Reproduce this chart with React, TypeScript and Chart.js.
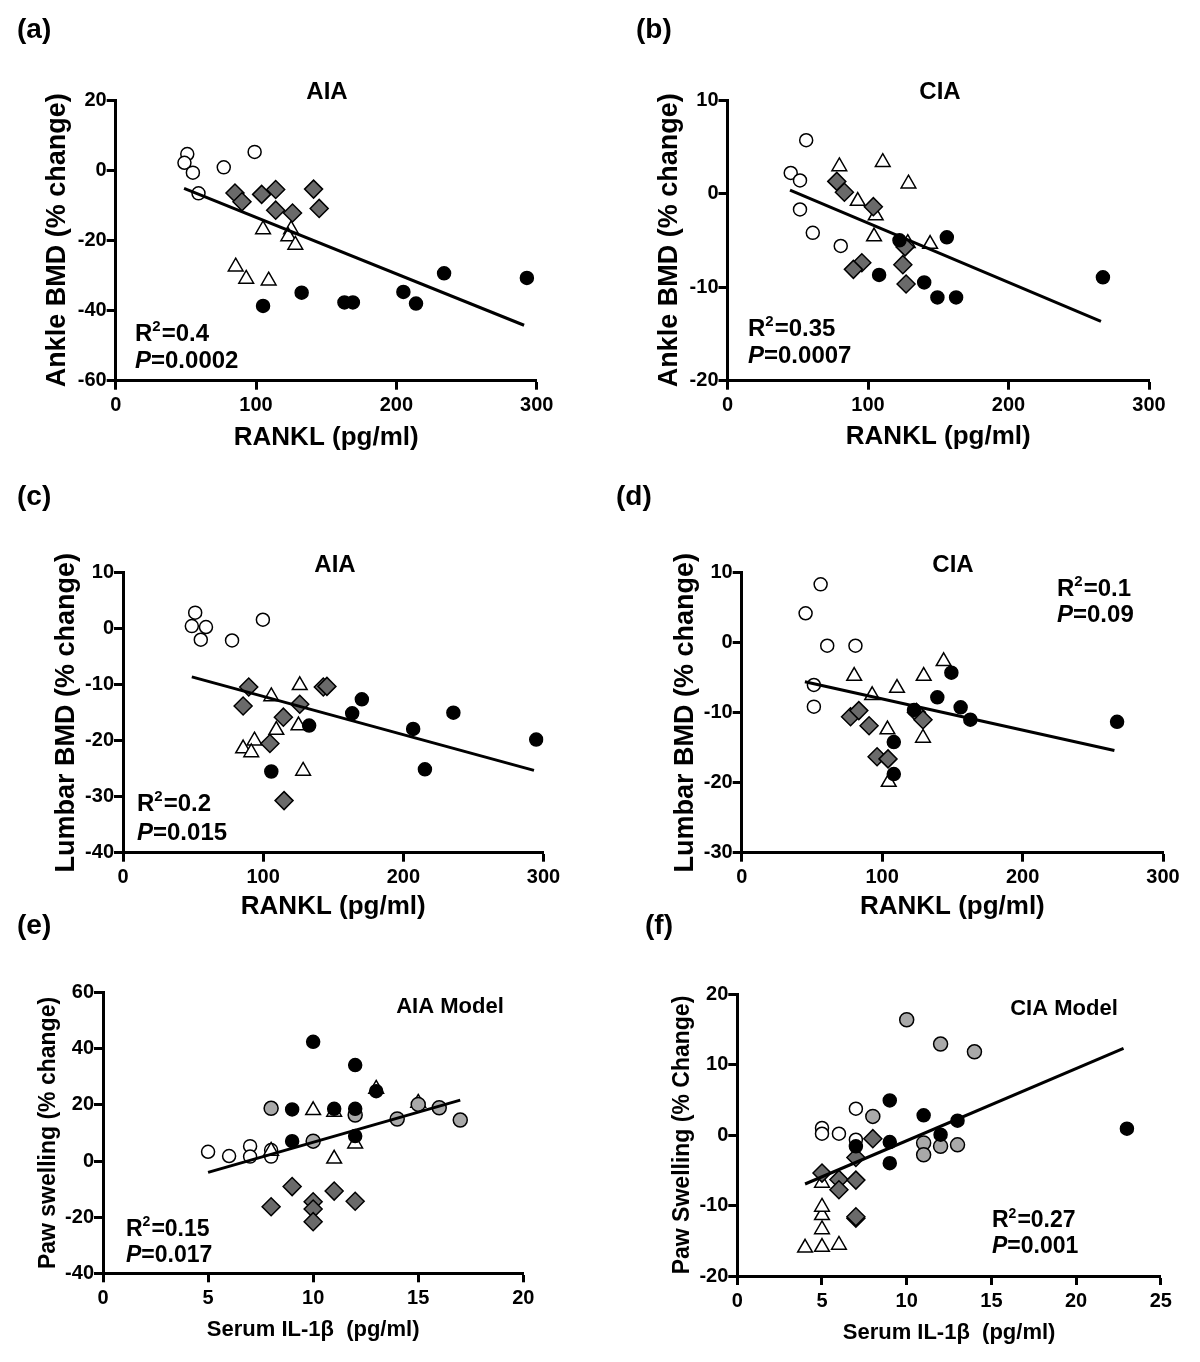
import React, { useEffect, useRef } from "react";
import { Chart, registerables } from "chart.js";

Chart.register(...registerables);

const FONT = "'Liberation Sans', Arial, Helvetica, sans-serif";

// ---------------- data (x, y) ----------------
// (a) Ankle BMD vs RANKL, AIA
const aOpenCircles = [[51, 4.6], [49, 2.1], [55, -0.7], [59, -6.6], [77, 0.8], [99, 5.2]];
const aDiamonds = [[85, -6.5], [90, -9], [104, -6.9], [114, -5.5], [114, -11.4], [126, -12.2], [141, -5.4], [145, -10.9]];
const aTriangles = [[105, -16.9], [125, -16.9], [123, -18.9], [128, -21.3], [85.5, -27.5], [93, -31], [109, -31.5]];
const aBlackCircles = [[105, -38.7], [132.5, -34.9], [163, -37.7], [169, -37.7], [205, -34.7], [214, -38], [234, -29.4], [293, -30.7]];
const aRegression = [[48.7, -5.2], [291, -44.2]];

// (b) Ankle BMD vs RANKL, CIA
const bOpenCircles = [[56, 5.7], [45, 2.2], [51.6, 1.4], [51.6, -1.7], [60.7, -4.2], [80.6, -5.6]];
const bTriangles = [[79.6, 2.9], [110.5, 3.35], [128.8, 1.05], [92.7, -0.8], [105.5, -2.35], [104.3, -4.6], [128.3, -5.3], [144.2, -5.4]];
const bDiamonds = [[77.8, 1.3], [83.2, 0.14], [103.8, -1.4], [126.4, -5.7], [124.8, -7.6], [95.6, -7.4], [89.6, -8.1], [127.1, -9.66]];
const bBlackCircles = [[122.4, -5.0], [156.1, -4.67], [107.9, -8.7], [140, -9.5], [149.4, -11.1], [162.7, -11.1], [267.2, -8.95]];
const bRegression = [[44.5, 0.36], [265.8, -13.66]];

// (c) Lumbar BMD vs RANKL, AIA
const cOpenCircles = [[51.5, 2.86], [49.1, 0.47], [59.2, 0.3], [55.5, -1.97], [77.8, -2.1], [99.8, 1.6]];
const cDiamonds = [[89.7, -10.4], [85.7, -13.8], [126.1, -13.5], [114.4, -15.8], [104.8, -20.5], [114.9, -30.7], [142.9, -10.4], [145.5, -10.3]];
const cTriangles = [[126.1, -10.1], [105.8, -12.1], [109.4, -18.1], [125.2, -17.3], [93.8, -20], [85.7, -21.4], [91.5, -22.1], [128.5, -25.4]];
const cBlackCircles = [[132.8, -17.3], [105.8, -25.5], [170.4, -12.6], [163.5, -15.1], [207, -17.9], [235.7, -15], [215.4, -25.1], [294.8, -19.8]];
const cRegression = [[49.1, -8.6], [293.2, -25.3]];

// (d) Lumbar BMD vs RANKL, CIA
const dOpenCircles = [[56.2, 8.34], [45.5, 4.2], [60.9, -0.43], [81, -0.43], [51.4, -6.04], [51.4, -9.14]];
const dTriangles = [[80.1, -4.76], [143.8, -2.66], [129.6, -4.76], [110.6, -6.48], [92.9, -7.52], [103.8, -12.4], [129.1, -13.6], [104.7, -19.9]];
const dDiamonds = [[77.5, -10.57], [83.4, -9.7], [90.7, -11.86], [96.4, -16.3], [104.2, -16.6], [124.4, -9.95], [129.1, -11.0]];
const dBlackCircles = [[149.3, -4.28], [139.3, -7.8], [155.9, -9.23], [162.8, -11.0], [122.7, -9.6], [108.3, -14.2], [108.3, -18.76], [267.3, -11.3]];
const dRegression = [[45, -5.57], [265.4, -15.4]];

// (e) Paw swelling vs serum IL-1b, AIA model
const eOpenCircles = [[5, 3.3], [6, 1.8], [7, 5.3], [7, 1.6], [8, 3.9], [8, 1.6]];
const eTriangles = [[10, 18.1], [11, 17.5], [13, 25.7], [15, 20.7], [12, 6.2], [11, 0.8], [8, 3.6]];
const eDiamonds = [[9, -9.1], [8, -16.3], [10, -14.5], [10, -17.1], [10, -21.6], [11, -10.7], [12, -14.3]];
const eGreyCircles = [[8, 18.8], [10, 7.1], [12, 16.4], [14, 15], [15, 20.2], [16, 19], [17, 14.6]];
const eBlackCircles = [[10, 42.5], [12, 34.2], [13, 24.9], [9, 18.4], [11, 18.6], [12, 18.6], [9, 7.1], [12, 8.9]];
const eRegression = [[5, -4.04], [17, 21.7]];

// (f) Paw swelling vs serum IL-1b, CIA model
const fOpenCircles = [[5, 1.0], [5, 0.18], [6, 0.18], [7, 3.73], [7, -0.67]];
const fTriangles = [[4, -16], [5, -15.9], [6, -15.6], [5, -13.4], [5, -11.4], [5, -10.2], [5, -6.8]];
const fDiamonds = [[8, -0.52], [7, -3.2], [5, -5.4], [6, -6.3], [6, -7.76], [7, -6.4], [7, -11.8], [7, -11.6]];
const fGreyCircles = [[10, 16.35], [12, 12.9], [14, 11.8], [8, 2.64], [11, -1.13], [11, -2.8], [12, -1.6], [13, -1.4]];
const fBlackCircles = [[9, 4.9], [11, 2.8], [13, 2.03], [12, 0.04], [9, -1.0], [9, -4.0], [7, -1.6], [23, 0.9]];
const fRegression = [[4, -6.95], [22.8, 12.3]];

// ---------------- marker styles ----------------
const MARK: Record<string, any> = {
  open: { pointStyle: "circle", pointRadius: 6.5, pointBackgroundColor: "#ffffff", order: 5 },
  triangle: { pointStyle: "triangle", pointRadius: 8.5, pointBackgroundColor: "#ffffff", order: 4 },
  diamond: { pointStyle: "rectRot", pointRadius: 9, pointBackgroundColor: "#6a6a6a", order: 3 },
  grey: { pointStyle: "circle", pointRadius: 7, pointBackgroundColor: "#a9a9a9", order: 2 },
  black: { pointStyle: "circle", pointRadius: 6.5, pointBackgroundColor: "#000000", order: 1 },
};

interface Panel {
  key: string;
  box: number[]; // canvas left, top, width, height (page px)
  area: number[]; // plot area left, top, right, bottom (page px)
  x: number[];
  y: number[];
  xTitle: string;
  yTitle: string;
  xTitleSize: number;
  yTitleSize: number;
  xTitleGap: number;
  yTitleGap: number;
  letter: string;
  letterPos: number[];
  title: string;
  titlePos: number[];
  titleSize: number;
  r2: string;
  p: string;
  statPos: number[];
  statSize: number;
  series: { data: number[][]; mark: string }[];
  fit: number[][];
}

const RANKL = "RANKL (pg/ml)";
const IL1B = "Serum IL-1\u03b2  (pg/ml)";

const PANELS: Panel[] = [
  {
    key: "a", box: [0, 0, 600, 470], area: [115.7, 100, 536.7, 380.7],
    x: [0, 300, 100], y: [-60, 20, 20],
    xTitle: RANKL, yTitle: "Ankle BMD (% change)", xTitleSize: 26, yTitleSize: 27, xTitleGap: 57, yTitleGap: 57.7,
    letter: "(a)", letterPos: [17, 30], title: "AIA", titlePos: [327, 99], titleSize: 24,
    r2: "0.4", p: "0.0002", statPos: [135, 332, 359], statSize: 24,
    series: [
      { data: aOpenCircles, mark: "open" }, { data: aTriangles, mark: "triangle" },
      { data: aDiamonds, mark: "diamond" }, { data: aBlackCircles, mark: "black" },
    ],
    fit: aRegression,
  },
  {
    key: "b", box: [600, 0, 600, 470], area: [727.5, 100, 1149, 380.7],
    x: [0, 300, 100], y: [-20, 10, 10],
    xTitle: RANKL, yTitle: "Ankle BMD (% change)", xTitleSize: 26, yTitleSize: 27, xTitleGap: 56, yTitleGap: 57.5,
    letter: "(b)", letterPos: [636, 30], title: "CIA", titlePos: [940, 99], titleSize: 24,
    r2: "0.35", p: "0.0007", statPos: [748, 327, 354], statSize: 24,
    series: [
      { data: bOpenCircles, mark: "open" }, { data: bTriangles, mark: "triangle" },
      { data: bDiamonds, mark: "diamond" }, { data: bBlackCircles, mark: "black" },
    ],
    fit: bRegression,
  },
  {
    key: "c", box: [0, 470, 600, 470], area: [123, 572.7, 543.5, 852.7],
    x: [0, 300, 100], y: [-40, 10, 10],
    xTitle: RANKL, yTitle: "Lumbar BMD (% change)", xTitleSize: 26, yTitleSize: 27, xTitleGap: 54, yTitleGap: 56,
    letter: "(c)", letterPos: [17, 497], title: "AIA", titlePos: [335, 571.5], titleSize: 24,
    r2: "0.2", p: "0.015", statPos: [137, 802, 831], statSize: 24,
    series: [
      { data: cOpenCircles, mark: "open" }, { data: cTriangles, mark: "triangle" },
      { data: cDiamonds, mark: "diamond" }, { data: cBlackCircles, mark: "black" },
    ],
    fit: cRegression,
  },
  {
    key: "d", box: [600, 470, 600, 470], area: [741.7, 572.7, 1163, 852.7],
    x: [0, 300, 100], y: [-30, 10, 10],
    xTitle: RANKL, yTitle: "Lumbar BMD (% change)", xTitleSize: 26, yTitleSize: 27, xTitleGap: 54, yTitleGap: 56,
    letter: "(d)", letterPos: [616, 497], title: "CIA", titlePos: [953, 572], titleSize: 24,
    r2: "0.1", p: "0.09", statPos: [1057, 587, 613], statSize: 24,
    series: [
      { data: dOpenCircles, mark: "open" }, { data: dTriangles, mark: "triangle" },
      { data: dDiamonds, mark: "diamond" }, { data: dBlackCircles, mark: "black" },
    ],
    fit: dRegression,
  },
  {
    key: "e", box: [0, 900, 600, 462], area: [103, 992.7, 523.3, 1273.3],
    x: [0, 20, 5], y: [-40, 60, 20],
    xTitle: IL1B, yTitle: "Paw swelling (% change)", xTitleSize: 22, yTitleSize: 23, xTitleGap: 57, yTitleGap: 54,
    letter: "(e)", letterPos: [17, 926], title: "AIA Model", titlePos: [450, 1013], titleSize: 22,
    r2: "0.15", p: "0.017", statPos: [126, 1227.5, 1254], statSize: 23,
    series: [
      { data: eOpenCircles, mark: "open" }, { data: eTriangles, mark: "triangle" },
      { data: eDiamonds, mark: "diamond" }, { data: eGreyCircles, mark: "grey" },
      { data: eBlackCircles, mark: "black" },
    ],
    fit: eRegression,
  },
  {
    key: "f", box: [600, 900, 600, 462], area: [737.3, 994, 1160.8, 1276],
    x: [0, 25, 5], y: [-20, 20, 10],
    xTitle: IL1B, yTitle: "Paw Swelling (% Change)", xTitleSize: 22, yTitleSize: 23, xTitleGap: 57, yTitleGap: 54.3,
    letter: "(f)", letterPos: [645, 926], title: "CIA Model", titlePos: [1064, 1015], titleSize: 22,
    r2: "0.27", p: "0.001", statPos: [992, 1219, 1245], statSize: 23,
    series: [
      { data: fOpenCircles, mark: "open" }, { data: fTriangles, mark: "triangle" },
      { data: fDiamonds, mark: "diamond" }, { data: fGreyCircles, mark: "grey" },
      { data: fBlackCircles, mark: "black" },
    ],
    fit: fRegression,
  },
];

const pts = (arr: number[][]) => arr.map(([x, y]) => ({ x, y }));

function drawStats(ctx: CanvasRenderingContext2D, x: number, y1: number, y2: number, r2: string, p: string, size: number) {
  ctx.textAlign = "left";
  ctx.textBaseline = "alphabetic";
  const b1 = y1 + size * 0.36;
  ctx.font = `bold ${size}px ${FONT}`;
  ctx.fillText("R", x, b1);
  let w = ctx.measureText("R").width;
  const sup = Math.round(size * 0.62);
  ctx.font = `bold ${sup}px ${FONT}`;
  ctx.fillText("2", x + w, b1 - size * 0.42);
  w += ctx.measureText("2").width + 1;
  ctx.font = `bold ${size}px ${FONT}`;
  ctx.fillText("=" + r2, x + w, b1);

  const b2 = y2 + size * 0.36;
  ctx.font = `italic bold ${size}px ${FONT}`;
  ctx.fillText("P", x, b2);
  const pw = ctx.measureText("P").width;
  ctx.font = `bold ${size}px ${FONT}`;
  ctx.fillText("=" + p, x + pw, b2);
}

function buildConfig(p: Panel): any {
  const [bx, by, bw, bh] = p.box;
  const [L, T, R, B] = p.area;
  const AX = 80;
  const tickFont = { family: FONT, size: 20, weight: "bold" };
  const grid = {
    display: true,
    drawOnChartArea: false,
    drawTicks: true,
    tickLength: 9,
    tickWidth: 3,
    tickColor: "#000000",
    color: "#000000",
  };
  const border = { display: true, color: "#000000", width: 3 };

  const annot = {
    id: "annot" + p.key,
    afterDraw(chart: any) {
      const ctx: CanvasRenderingContext2D = chart.ctx;
      ctx.save();
      ctx.fillStyle = "#000000";
      ctx.font = `bold 28px ${FONT}`;
      ctx.textAlign = "left";
      ctx.textBaseline = "middle";
      ctx.fillText(p.letter, p.letterPos[0] - bx, p.letterPos[1] - by);
      ctx.font = `bold ${p.titleSize}px ${FONT}`;
      ctx.textAlign = "center";
      ctx.textBaseline = "alphabetic";
      ctx.fillText(p.title, p.titlePos[0] - bx, p.titlePos[1] - by);
      drawStats(ctx, p.statPos[0] - bx, p.statPos[1] - by, p.statPos[2] - by, p.r2, p.p, p.statSize);
      ctx.restore();
    },
  };

  const datasets: any[] = [
    {
      data: pts(p.fit),
      showLine: true,
      borderColor: "#000000",
      borderWidth: 3,
      pointRadius: 0,
      order: 0,
    },
    ...p.series.map((s) => ({
      data: pts(s.data),
      showLine: false,
      pointBorderColor: "#000000",
      pointBorderWidth: 1.5,
      ...MARK[s.mark],
    })),
  ];

  return {
    type: "scatter",
    data: { datasets },
    options: {
      responsive: false,
      maintainAspectRatio: false,
      animation: false,
      devicePixelRatio: 1,
      events: [],
      layout: {
        padding: { left: L - AX - bx, top: T - by, right: bx + bw - R, bottom: by + bh - B - AX },
      },
      plugins: { legend: { display: false }, tooltip: { enabled: false }, title: { display: false } },
      scales: {
        x: {
          type: "linear",
          position: "bottom",
          min: p.x[0],
          max: p.x[1],
          ticks: { stepSize: p.x[2], autoSkip: false, maxRotation: 0, font: tickFont, color: "#000000", padding: 4 },
          grid,
          border,
          title: {
            display: true,
            text: p.xTitle,
            color: "#000000",
            font: { family: FONT, size: p.xTitleSize, weight: "bold" },
            padding: { top: 0, bottom: AX - p.xTitleGap - p.xTitleSize * 0.6 },
          },
          afterFit: (s: any) => { s.height = AX; },
        },
        y: {
          type: "linear",
          position: "left",
          min: p.y[0],
          max: p.y[1],
          ticks: { stepSize: p.y[2], autoSkip: false, font: tickFont, color: "#000000", padding: 0 },
          grid,
          border,
          title: {
            display: true,
            text: p.yTitle,
            color: "#000000",
            font: { family: FONT, size: p.yTitleSize, weight: "bold" },
            padding: { top: AX - p.yTitleGap - p.yTitleSize * 0.6, bottom: 0 },
          },
          afterFit: (s: any) => { s.width = AX; },
        },
      },
    },
    plugins: [annot],
  };
}

function PanelChart({ spec }: { spec: Panel }) {
  const ref = useRef<HTMLCanvasElement>(null);
  useEffect(() => {
    const canvas = ref.current;
    if (!canvas) return;
    const chart = new Chart(canvas, buildConfig(spec));
    return () => chart.destroy();
  }, [spec]);
  const [bx, by, bw, bh] = spec.box;
  return (
    <canvas
      ref={ref}
      width={bw}
      height={bh}
      style={{ position: "absolute", left: bx, top: by, width: bw, height: bh }}
    />
  );
}

export default function App() {
  return (
    <div
      style={{
        position: "absolute",
        left: 0,
        top: 0,
        width: 1200,
        height: 1362,
        background: "#ffffff",
        overflow: "hidden",
      }}
    >
      {PANELS.map((p) => (
        <PanelChart key={p.key} spec={p} />
      ))}
    </div>
  );
}
